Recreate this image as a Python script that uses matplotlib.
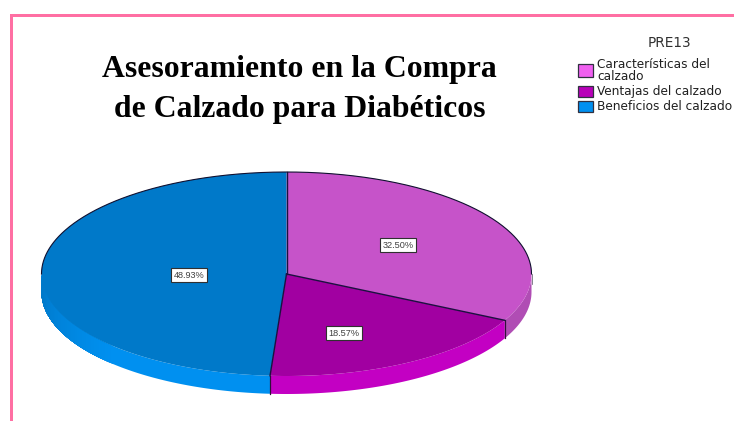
import numpy as np
import matplotlib
matplotlib.use("Agg")
import matplotlib.pyplot as plt
from matplotlib.colors import to_rgb
from matplotlib.patches import Polygon, Rectangle

categories = ["Características del\ncalzado", "Ventajas del calzado", "Beneficios del calzado"]
shares = [32.50, 18.57, 48.93]
value_labels = ["32.50%", "18.57%", "48.93%"]
legend_title = "PRE13"
title_lines = ["Asesoramiento en la Compra", "de Calzado para Diabéticos"]

top_colors = ["#C653C9", "#A100A1", "#0079C9"]
side_colors = ["#B04DB4", "#C300C3", "#0090F0"]
swatch_colors = ["#F060F0", "#B800B8", "#0090F0"]

W, H = 734, 421
CX, CY, RX, RY, DEPTH = 286.5, 274.0, 245.0, 102.0, 18.0
label_xy = [(398, 245), (344, 333), (189, 275)]
LEGEND_FONT = "DejaVu Sans"

fig = plt.figure(figsize=(W / 100, H / 100), dpi=100, facecolor="white")
ax = fig.add_axes([0, 0, 1, 1])
ax.set_xlim(0, W)
ax.set_ylim(H, 0)
ax.axis("off")


def rim(a0, a1, n=200):
    """Points along the pie rim; angles in degrees, clockwise from 12 o'clock."""
    t = np.radians(np.linspace(a0, a1, n))
    return np.column_stack([CX + RX * np.sin(t), CY - RY * np.cos(t)])


def wall_band(a0, a1, color):
    pts = rim(a0, a1)
    band = np.vstack([pts, (pts + [0, DEPTH])[::-1]])
    ax.add_patch(Polygon(band, closed=True, fc=color, ec="none", zorder=2))


edges = np.concatenate([[0], np.cumsum(shares)]) * 3.6

# Side wall: only the front half of the rim (90..270 degrees) is visible.
# Each band overlaps the next, so the shading towards the left silhouette has no seams.
for i in range(len(shares)):
    a0, a1 = max(edges[i], 90), min(edges[i + 1], 270)
    if a1 <= a0:
        continue
    base = np.array(to_rgb(side_colors[i]))
    dark = np.array(to_rgb(top_colors[i]))
    wall_band(a0, a1, base)
    for s in np.arange(225.0, a1, 1.0):
        if s >= a0:
            shade = np.clip((s - 225) / 40, 0, 1)
            wall_band(s, a1, tuple((1 - shade) * base + shade * dark))
    for a in (a0, a1):
        if 90 < a < 270:
            p = rim(a, a, 1)[0]
            ax.plot([p[0], p[0]], [p[1], p[1] + DEPTH], color="#30103a", lw=0.8, zorder=3)

# Short dark silhouette on the right side of the wall
p = rim(90, 90, 1)[0]
ax.plot([p[0], p[0]], [p[1], p[1] + 10], color="#505060", lw=0.5, zorder=3)

# Top face
for i in range(len(shares)):
    pts = np.vstack([[CX, CY], rim(edges[i], edges[i + 1])])
    ax.add_patch(Polygon(pts, closed=True, fc=top_colors[i], ec="none", zorder=4))

# Dark outlines: radial spokes and the back of the rim
for a in edges[:-1]:
    p = rim(a, a, 1)[0]
    ax.plot([CX, p[0]], [CY, p[1]], color="#1c1040", lw=1.0, zorder=5)
back = np.vstack([rim(270, 360), rim(0, 90)])
ax.plot(back[:, 0], back[:, 1], color="#101030", lw=0.8, zorder=5)

for (x, y), s in zip(label_xy, value_labels):
    ax.text(x, y, s, ha="center", va="center", fontsize=6.6, family="Liberation Sans",
            color="#404040", zorder=6,
            bbox=dict(boxstyle="square,pad=0.3", fc="white", ec="#303030", lw=0.8))

# Title
title_font = dict(family="Liberation Serif", weight="bold", fontsize=22.9, color="black",
                  ha="center", va="center")
ax.text(299.5, 70, title_lines[0], **title_font)
ax.text(300, 109, title_lines[1], **title_font)

# Legend
ax.text(669.5, 43, legend_title, ha="center", va="center", fontsize=9.8,
        family=LEGEND_FONT, color="#303030")
swatches = [(63.5, 13), (85.5, 11.5), (100.5, 11.5)]
for (y, h), c in zip(swatches, swatch_colors):
    ax.add_patch(Rectangle((577.5, y), 15, h, fc=c, ec="#303040", lw=0.9, zorder=3))
legend_text = dict(ha="left", va="center", fontsize=8.75, family=LEGEND_FONT, color="#202020")
ax.text(597, 70.5, categories[0], linespacing=0.9, **legend_text)
ax.text(597, 91, categories[1], **legend_text)
ax.text(597, 106, categories[2], **legend_text)

# Pink frame on the top and left edges
ax.add_patch(Rectangle((10, 14), W - 10, 2.5, fc="#FF6FA3", ec="none", zorder=1))
ax.add_patch(Rectangle((10, 14), 2.5, H - 14, fc="#FF6FA3", ec="none", zorder=1))

fig.savefig("out.png", dpi=100, facecolor="white")
